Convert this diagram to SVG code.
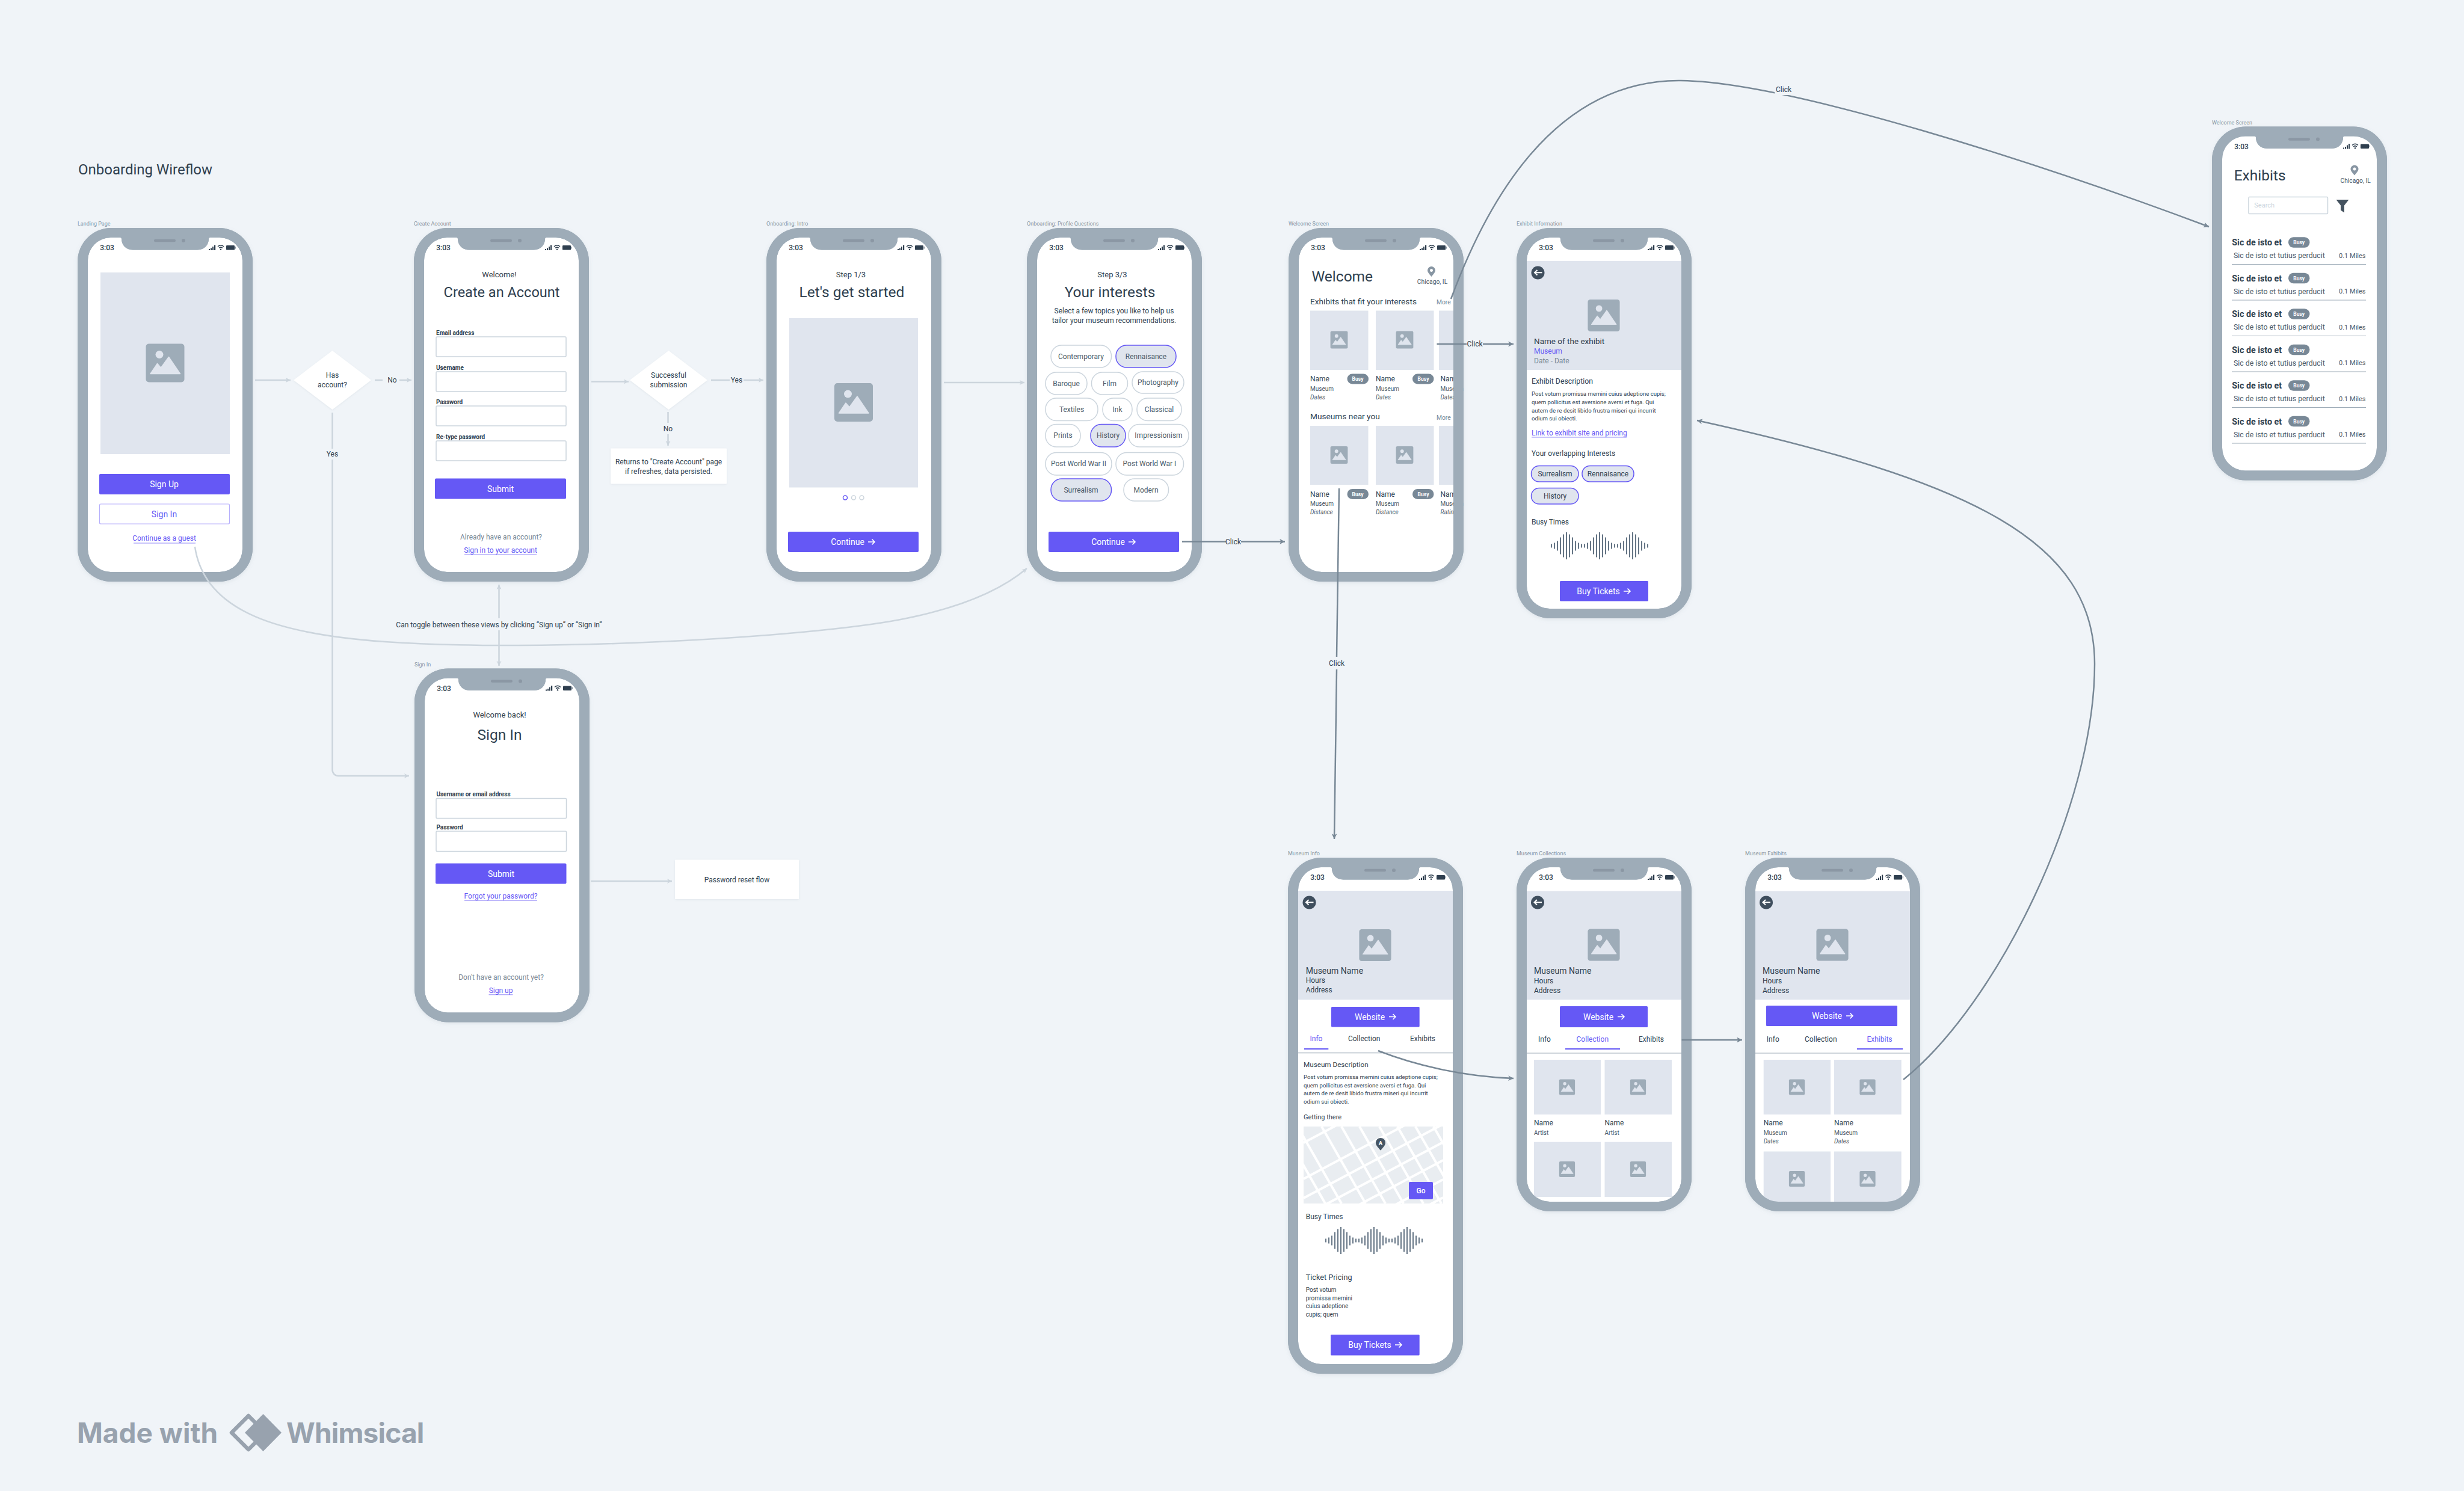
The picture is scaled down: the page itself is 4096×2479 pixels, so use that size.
<svg xmlns="http://www.w3.org/2000/svg" width="4096" height="2479" viewBox="0 0 4096 2479">
<style>
text{font-family:Roboto,"Liberation Sans",sans-serif;dominant-baseline:central;fill:#2f3f4f}
.c{text-anchor:middle}.e{text-anchor:end}.b{font-weight:700}.m{font-weight:500}.i{font-style:italic}
.g{fill:#788896}.p{fill:#6558f5}.w{fill:#fff}.l{fill:#ccd5dd}.n{fill:#4a5a68}
.s8{font-size:8.5px}.s9{font-size:9.5px}.sb{font-size:9.6px}.s10{font-size:10px}.sm{font-size:10.3px}.s11{font-size:11px}.s12{font-size:12px}.sr{font-size:12.3px}.s13{font-size:13px}.s14{font-size:14px}.sh{font-size:14.3px;font-weight:700}.s21{font-size:23.5px}.s24{font-size:24.5px}
.lbl{font-size:9px;fill:#8694a2}
.out{fill:#9eacb8;filter:url(#sh)}.scr{fill:#fff}.ring{fill:#9eacb8}
.ph{fill:#e0e5ee}.btn{fill:#6558f5}.inp{fill:#fff;stroke:#ccd5dd;stroke-width:1.5}
.chip{fill:#fff;stroke:#ccd5dd;stroke-width:1.5}.sel{fill:#e0e5ee;stroke:#6558f5;stroke-width:1.5}
.pill{fill:#788896}.ul{stroke:#6558f5;stroke-width:1;fill:none;opacity:.7}.ar{stroke:#fff;stroke-width:1.6;fill:none}
.dv{stroke:#9eacb8;stroke-width:1.2;fill:none}.tab{stroke:#6558f5;stroke-width:2.2;fill:none}
.box{fill:#fff;filter:url(#sh2)}
.cl{fill:none;stroke:#ccd5dd;stroke-width:2.5}.cd{fill:none;stroke:#788896;stroke-width:2.5}
.wave{fill:none;stroke:#667686;stroke-width:2}
.lg{fill:#98a2ae;font-family:Inter,"Liberation Sans",sans-serif;font-weight:700;font-size:46px}
</style>
<defs>
<filter id="sh" x="-10%" y="-10%" width="120%" height="120%"><feDropShadow dx="0" dy="2" stdDeviation="3" flood-color="#8694a2" flood-opacity=".18"/></filter>
<filter id="sh2" x="-10%" y="-10%" width="120%" height="120%"><feDropShadow dx="0" dy="1" stdDeviation="1.5" flood-color="#8694a2" flood-opacity=".15"/></filter>
<marker id="al" viewBox="0 0 10 10" refX="9" refY="5" markerWidth="10" markerHeight="10" markerUnits="userSpaceOnUse" orient="auto"><path d="M1 1L9 5L1 9L3 5Z" fill="#ccd5dd"/></marker>
<marker id="ad" viewBox="0 0 10 10" refX="9" refY="5" markerWidth="11" markerHeight="11" markerUnits="userSpaceOnUse" orient="auto"><path d="M1 1L9 5L1 9L3 5Z" fill="#788896"/></marker>
<g id="b588"><rect class="out" width="291" height="588" rx="56"/><path class="scr" d="M55 16H71a2 2 0 0 1 2 2C73 28 80 36.5 92 36.5H199C211 36.5 218 28 218 18a2 2 0 0 1 2-2H236a38 38 0 0 1 38 38V534a38 38 0 0 1-38 38H55a38 38 0 0 1-38-38V54a38 38 0 0 1 38-38Z"/></g>
<g id="b649"><rect class="out" width="291" height="649" rx="56"/><path class="scr" d="M55 16H71a2 2 0 0 1 2 2C73 28 80 36.5 92 36.5H199C211 36.5 218 28 218 18a2 2 0 0 1 2-2H236a38 38 0 0 1 38 38V595a38 38 0 0 1-38 38H55a38 38 0 0 1-38-38V54a38 38 0 0 1 38-38Z"/></g>
<g id="b858"><rect class="out" width="291" height="858" rx="56"/><path class="scr" d="M55 16H71a2 2 0 0 1 2 2C73 28 80 36.5 92 36.5H199C211 36.5 218 28 218 18a2 2 0 0 1 2-2H236a38 38 0 0 1 38 38V804a38 38 0 0 1-38 38H55a38 38 0 0 1-38-38V54a38 38 0 0 1 38-38Z"/></g>
<path id="r588" class="ring" fill-rule="evenodd" d="M56 0H235a56 56 0 0 1 56 56V532a56 56 0 0 1-56 56H56a56 56 0 0 1-56-56V56A56 56 0 0 1 56 0ZM55 16H71a2 2 0 0 1 2 2C73 28 80 36.5 92 36.5H199C211 36.5 218 28 218 18a2 2 0 0 1 2-2H236a38 38 0 0 1 38 38V534a38 38 0 0 1-38 38H55a38 38 0 0 1-38-38V54a38 38 0 0 1 38-38Z"/>
<path id="r649" class="ring" fill-rule="evenodd" d="M56 0H235a56 56 0 0 1 56 56V593a56 56 0 0 1-56 56H56a56 56 0 0 1-56-56V56A56 56 0 0 1 56 0ZM55 16H71a2 2 0 0 1 2 2C73 28 80 36.5 92 36.5H199C211 36.5 218 28 218 18a2 2 0 0 1 2-2H236a38 38 0 0 1 38 38V595a38 38 0 0 1-38 38H55a38 38 0 0 1-38-38V54a38 38 0 0 1 38-38Z"/>
<path id="r858" class="ring" fill-rule="evenodd" d="M56 0H235a56 56 0 0 1 56 56V802a56 56 0 0 1-56 56H56a56 56 0 0 1-56-56V56A56 56 0 0 1 56 0ZM55 16H71a2 2 0 0 1 2 2C73 28 80 36.5 92 36.5H199C211 36.5 218 28 218 18a2 2 0 0 1 2-2H236a38 38 0 0 1 38 38V804a38 38 0 0 1-38 38H55a38 38 0 0 1-38-38V54a38 38 0 0 1 38-38Z"/>
<g id="st"><rect x="127" y="18.8" width="36" height="4.5" rx="2.2" fill="#8b97a4"/><circle cx="176" cy="21" r="3" fill="#8b97a4"/>
<path fill="#2f3f4f" d="M218 35h2v2h-2zM221 33.500h2v3.500h-2zM224 31h2v6h-2zM227 28.500h2.200v8.500h-2.200z"/>
<path fill="none" stroke="#2f3f4f" stroke-width="1.500" d="M233 31Q238 26.500 243 31M235.200 33.300Q238 31 240.800 33.300"/><circle cx="238" cy="35.800" r="1.200" fill="#2f3f4f"/>
<rect x="247" y="29" width="14" height="7.500" rx="1.200" fill="#2f3f4f"/><rect x="261.500" y="31" width="1.500" height="3.500" fill="#8b97a4"/></g>
<g id="img"><rect x="-32" y="-32" width="64" height="64" rx="5" fill="#9eacb8"/><circle cx="-9.500" cy="-14" r="6.500" fill="#e0e5ee"/><path d="M-24.500 18L-13 1L-7 8L6-10L25 18Z" fill="#e0e5ee" stroke="#e0e5ee" stroke-width="1.500" stroke-linejoin="round"/></g>
<g id="back"><circle r="11" fill="#3f4e5d"/><path d="M7-.2H-5M-1-4.500L-5.500-.2L-1 4" fill="none" stroke="#fff" stroke-width="2"/></g>
<path id="arrow" class="ar" d="M0 0H11M6.500-4.500L11 0L6.500 4.500"/>
<path id="pin" fill="#8896a3" fill-rule="evenodd" d="M0 9C-4 4-6.500 1.500-6.500-1.500A6.500 6.500 0 0 1 6.500-1.500C6.500 1.500 4 4 0 9ZM0-4A2.500 2.500 0 1 0 .01-4Z"/>
<path id="wv" class="wave" d="M0-3v6M5-5v10M10-8v16M15-14v28M20-19v38M25-22.500v45M30-19v38M35-14v28M40-8v16M45-5v10M50-3v6M55-3v6M60-5v10M65-8v16M70-14v28M75-19v38M80-22.500v45M85-19v38M90-14v28M95-8v16M100-5v10M105-3v6M110-3v6M115-5v10M120-8v16M125-14v28M130-19v38M135-22.500v45M140-19v38M145-14v28M150-8v16M155-5v10M160-3v6"/>
<clipPath id="mc"><rect width="232" height="128"/></clipPath>
</defs>
<rect width="4096" height="2479" fill="#f0f4f8"/>
<text id="title" x="130" y="282" style="font-size:24px">Onboarding Wireflow</text>

<g id="landing" transform="translate(129,379)"><text class="lbl" y="-7">Landing Page</text><use href="#b588"/>
<rect class="ph" x="38" y="74" width="215" height="302"/><use href="#img" transform="translate(145.500,224.500)"/>
<rect class="btn" x="36" y="409" width="217" height="34" rx="2"/><text class="c w s14" x="144" y="426">Sign Up</text>
<rect x="36.500" y="459" width="216" height="33" rx="2" fill="#fff" stroke="#b5aefc" stroke-width="1.200"/><text class="c p s14" x="144" y="475.500">Sign In</text>
<text class="c p s12" x="144" y="516">Continue as a guest</text><path class="ul" d="M93 524H196"/>
<text class="c m s12" x="49" y="33">3:03</text><use href="#r588"/><use href="#st"/></g>

<g id="has-account"><path class="box" d="M552.500 583L617 632L552.500 681L488 632Z"/><text class="c s12" x="552.500" y="624">Has</text><text class="c s12" x="552.500" y="640">account?</text></g>

<g id="create" transform="translate(688,379)"><text class="lbl" y="-7">Create Account</text><use href="#b588"/>
<text class="c s13" x="142" y="77">Welcome!</text><text class="c s21" x="146" y="107">Create an Account</text>
<text class="b s10" x="37" y="174">Email address</text><rect class="inp" x="37" y="181" width="216" height="33" rx="1.500"/>
<text class="b s10" x="37" y="232">Username</text><rect class="inp" x="37" y="239" width="216" height="33" rx="1.500"/>
<text class="b s10" x="37" y="289">Password</text><rect class="inp" x="37" y="296" width="216" height="33" rx="1.500"/>
<text class="b s10" x="37" y="347">Re-type password</text><rect class="inp" x="37" y="354" width="216" height="33" rx="1.500"/>
<rect class="btn" x="35" y="416.500" width="218" height="34" rx="2"/><text class="c w s14" x="144" y="433.500">Submit</text>
<text class="c g s12" x="145" y="513.500">Already have an account?</text><text class="c p s12" x="144" y="536">Sign in to your account</text><path class="ul" d="M84 543H204"/>
<text class="c m s12" x="49" y="33">3:03</text><use href="#r588"/><use href="#st"/></g>

<g id="submission"><path class="box" d="M1111.500 583L1176 632L1111.500 681L1047 632Z"/><text class="c s12" x="1111.500" y="624">Successful</text><text class="c s12" x="1111.500" y="640">submission</text></g>
<g id="returns"><rect class="box" x="1015" y="745.500" width="193" height="59" rx="1"/><text class="c s12" x="1111.500" y="767.500">Returns to "Create Account" page</text><text class="c s12" x="1111.500" y="783.500">if refreshes, data persisted.</text></g>

<g id="intro" transform="translate(1274,379)"><text class="lbl" y="-7">Onboarding: Intro</text><use href="#b588"/>
<text class="c s13" x="140.500" y="77">Step 1/3</text><text class="c s24" x="142" y="106">Let's get started</text>
<rect class="ph" x="38" y="150" width="214" height="281.500"/><use href="#img" transform="translate(145,290)"/>
<circle cx="131" cy="448.500" r="3.500" fill="#fff" stroke="#6558f5" stroke-width="1.500"/><circle cx="145" cy="448.500" r="3.500" fill="#fff" stroke="#ccd5dd" stroke-width="1.500"/><circle cx="158.500" cy="448.500" r="3.500" fill="#fff" stroke="#ccd5dd" stroke-width="1.500"/>
<rect class="btn" x="36" y="505" width="217" height="34" rx="2"/><text class="c w s14" x="135" y="522">Continue</text><use href="#arrow" x="169" y="522"/>
<text class="c m s12" x="49" y="33">3:03</text><use href="#r588"/><use href="#st"/></g>

<g id="profile" transform="translate(1707,379)"><text class="lbl" y="-7">Onboarding: Profile Questions</text><use href="#b588"/>
<text class="c s13" x="142" y="77">Step 3/3</text><text class="c s24" x="138" y="106">Your interests</text>
<text class="c s12" x="145" y="137.500">Select a few topics you like to help us</text><text class="c s12" x="145" y="154">tailor your museum recommendations.</text>
<rect class="chip" x="40" y="195" width="100.500" height="37" rx="18"/><text class="c n s12" x="90" y="213.500">Contemporary</text>
<rect class="sel" x="148" y="195" width="100" height="37" rx="18"/><text class="c n s12" x="198" y="213.500">Rennaisance</text>
<rect class="chip" x="31" y="240" width="69" height="37" rx="18"/><text class="c n s12" x="65.500" y="258.500">Baroque</text>
<rect class="chip" x="107.500" y="240" width="60" height="37" rx="18"/><text class="c n s12" x="137.500" y="258.500">Film</text>
<rect class="chip" x="175" y="239" width="86" height="36" rx="18"/><text class="c n s12" x="218" y="256.500">Photography</text>
<rect class="chip" x="31" y="283" width="87" height="37.500" rx="18"/><text class="c n s12" x="74.500" y="301.500">Textiles</text>
<rect class="chip" x="126" y="283" width="49" height="37.500" rx="18"/><text class="c n s12" x="150.500" y="301.500">Ink</text>
<rect class="chip" x="183" y="283" width="74" height="37.500" rx="18"/><text class="c n s12" x="220" y="301.500">Classical</text>
<rect class="chip" x="31" y="326.500" width="58" height="37.500" rx="18"/><text class="c n s12" x="60" y="345">Prints</text>
<rect class="sel" x="106" y="326.500" width="58" height="37.500" rx="18"/><text class="c n s12" x="135" y="345">History</text>
<rect class="chip" x="169" y="326.500" width="100" height="37.500" rx="18"/><text class="c n s12" x="219" y="345">Impressionism</text>
<rect class="chip" x="31" y="373.500" width="110" height="37.500" rx="18"/><text class="c n s12" x="86" y="392">Post World War II</text>
<rect class="chip" x="148" y="373.500" width="112.500" height="37.500" rx="18"/><text class="c n s12" x="204" y="392">Post World War I</text>
<rect class="sel" x="40" y="417" width="100.500" height="37" rx="18"/><text class="c n s12" x="90" y="435.500">Surrealism</text>
<rect class="chip" x="161" y="417" width="74.500" height="37" rx="18"/><text class="c n s12" x="198" y="435.500">Modern</text>
<rect class="btn" x="36" y="505" width="217" height="34" rx="2"/><text class="c w s14" x="135" y="522">Continue</text><use href="#arrow" x="169" y="522"/>
<text class="c m s12" x="49" y="33">3:03</text><use href="#r588"/><use href="#st"/></g>

<g id="welcome" transform="translate(2142,379)"><text class="lbl" y="-7">Welcome Screen</text><use href="#b588"/>
<text class="s24" x="38.500" y="80">Welcome</text><use href="#pin" transform="translate(237.500,72)"/><text class="c n sm" x="239" y="89">Chicago, IL</text>
<text x="36" y="121.500" style="font-size:13.700px">Exhibits that fit your interests</text><text class="g sm" x="246" y="123">More</text>
<rect class="ph" x="36" y="137.500" width="96.500" height="98.500"/><rect class="ph" x="145" y="137.500" width="96.500" height="98.500"/><rect class="ph" x="250" y="137.500" width="30" height="98.500"/>
<use href="#img" transform="translate(84,186) scale(.45)"/><use href="#img" transform="translate(193,186) scale(.45)"/>
<text class="s12" x="36" y="251">Name</text><rect class="pill" x="97.500" y="242.500" width="35.500" height="17" rx="8.500"/><text class="c b w s8" x="115" y="251">Busy</text>
<text class="s12" x="145" y="251">Name</text><rect class="pill" x="206" y="242.500" width="35.500" height="17" rx="8.500"/><text class="c b w s8" x="224" y="251">Busy</text><text class="s12" x="252.500" y="251">Name</text>
<text class="n s10" x="36" y="267.500">Museum</text><text class="n s10" x="145" y="267.500">Museum</text><text class="n s10" x="252.500" y="267.500">Museum</text>
<text class="n i s10" x="36" y="281">Dates</text><text class="n i s10" x="145" y="281">Dates</text><text class="n i s10" x="252.500" y="281">Dates</text>
<text x="36" y="312.500" style="font-size:13.700px">Museums near you</text><text class="g sm" x="246" y="315">More</text>
<rect class="ph" x="36" y="329" width="96.500" height="98"/><rect class="ph" x="145" y="329" width="96.500" height="98"/><rect class="ph" x="250" y="329" width="30" height="98"/>
<use href="#img" transform="translate(84,377.500) scale(.45)"/><use href="#img" transform="translate(193,377.500) scale(.45)"/>
<text class="s12" x="36" y="442.500">Name</text><rect class="pill" x="97.500" y="434" width="35.500" height="17" rx="8.500"/><text class="c b w s8" x="115" y="442.500">Busy</text>
<text class="s12" x="145" y="442.500">Name</text><rect class="pill" x="206" y="434" width="35.500" height="17" rx="8.500"/><text class="c b w s8" x="224" y="442.500">Busy</text><text class="s12" x="252.500" y="442.500">Name</text>
<text class="n s10" x="36" y="458.500">Museum</text><text class="n s10" x="145" y="458.500">Museum</text><text class="n s10" x="252.500" y="458.500">Museum</text>
<text class="n i s10" x="36" y="472">Distance</text><text class="n i s10" x="145" y="472">Distance</text><text class="n i s10" x="252.500" y="472">Rating</text>
<text class="c m s12" x="49" y="33">3:03</text><use href="#r588"/><use href="#st"/></g>

<g id="exhibit-info" transform="translate(2521,379)"><text class="lbl" y="-7">Exhibit Information</text><use href="#b649"/>
<rect class="ph" x="17" y="55" width="257" height="181"/><use href="#back" x="35.500" y="74.500"/><use href="#img" transform="translate(145,145.500) scale(.83)"/>
<text x="29" y="188" style="font-size:13.500px">Name of the exhibit</text><text class="p s12" x="29" y="204.500">Museum</text><text class="g s12" x="29" y="221">Date - Date</text>
<text x="25" y="255" style="font-size:12.300px">Exhibit Description</text>
<text class="sb" x="25" y="275.500">Post votum promissa memini cuius adeptione cupis;</text><text class="sb" x="25" y="289">quem pollicitus est aversione aversi et fuga. Qui</text><text class="sb" x="25" y="303">autem de re desit libido frustra miseri qui incurrit</text><text class="sb" x="25" y="316.500">odium sui obiecti.</text>
<text class="p s12" x="25" y="341">Link to exhibit site and pricing</text><path class="ul" d="M25 348H183"/>
<text class="s12" x="25" y="375">Your overlapping Interests</text>
<rect class="sel" x="24.500" y="395.500" width="78.500" height="26.500" rx="13"/><text class="c s12" x="64" y="409">Surrealism</text>
<rect class="sel" x="109" y="395.500" width="86" height="26.500" rx="13"/><text class="c s12" x="152" y="409">Rennaisance</text>
<rect class="sel" x="24.500" y="432.500" width="78.500" height="26.500" rx="13"/><text class="c s12" x="64" y="446">History</text>
<text class="s12" x="25" y="489">Busy Times</text><use href="#wv" x="58" y="528.500"/>
<rect class="btn" x="72" y="587" width="147" height="33.500" rx="1.500"/><text class="c w s14" x="136" y="604">Buy Tickets</text><use href="#arrow" x="178" y="604"/>
<text class="c m s12" x="49" y="33">3:03</text><use href="#r649"/><use href="#st"/></g>

<g id="exhibits" transform="translate(3677,210.500)"><text class="lbl" y="-7">Welcome Screen</text><use href="#b588"/>
<text class="s24" x="36.700" y="80.500">Exhibits</text><use href="#pin" transform="translate(237,72)"/><text class="c n sm" x="238.700" y="89.500">Chicago, IL</text>
<rect class="inp" x="61" y="117" width="131.500" height="28" rx="1.500"/><text class="l s11" x="70.300" y="131">Search</text>
<path fill="#44525f" d="M206.500 121.600H227.500L220 131V143L214 139V131Z"/>
<g id="rows"><text class="sh" x="33.300" y="192.500">Sic de isto et</text><rect class="pill" x="127" y="183.800" width="35.500" height="17.400" rx="8.700"/><text class="c b w s8" x="144.700" y="192.500">Busy</text><text class="n sr" x="36" y="214.500">Sic de isto et tutius perducit</text><text class="e n s11" x="255.500" y="214.500">0.1 Miles</text><path class="dv" d="M33 229H256"/>
<text class="sh" x="33.300" y="252">Sic de isto et</text><rect class="pill" x="127" y="243.300" width="35.500" height="17.400" rx="8.700"/><text class="c b w s8" x="144.700" y="252">Busy</text><text class="n sr" x="36" y="274">Sic de isto et tutius perducit</text><text class="e n s11" x="255.500" y="274">0.1 Miles</text><path class="dv" d="M33 288.500H256"/>
<text class="sh" x="33.300" y="311.500">Sic de isto et</text><rect class="pill" x="127" y="302.800" width="35.500" height="17.400" rx="8.700"/><text class="c b w s8" x="144.700" y="311.500">Busy</text><text class="n sr" x="36" y="333.500">Sic de isto et tutius perducit</text><text class="e n s11" x="255.500" y="333.500">0.1 Miles</text><path class="dv" d="M33 348H256"/>
<text class="sh" x="33.300" y="371">Sic de isto et</text><rect class="pill" x="127" y="362.300" width="35.500" height="17.400" rx="8.700"/><text class="c b w s8" x="144.700" y="371">Busy</text><text class="n sr" x="36" y="393">Sic de isto et tutius perducit</text><text class="e n s11" x="255.500" y="393">0.1 Miles</text><path class="dv" d="M33 407.500H256"/>
<text class="sh" x="33.300" y="430.500">Sic de isto et</text><rect class="pill" x="127" y="421.800" width="35.500" height="17.400" rx="8.700"/><text class="c b w s8" x="144.700" y="430.500">Busy</text><text class="n sr" x="36" y="452.500">Sic de isto et tutius perducit</text><text class="e n s11" x="255.500" y="452.500">0.1 Miles</text><path class="dv" d="M33 467H256"/>
<text class="sh" x="33.300" y="490">Sic de isto et</text><rect class="pill" x="127" y="481.300" width="35.500" height="17.400" rx="8.700"/><text class="c b w s8" x="144.700" y="490">Busy</text><text class="n sr" x="36" y="512">Sic de isto et tutius perducit</text><text class="e n s11" x="255.500" y="512">0.1 Miles</text><path class="dv" d="M33 526.500H256"/></g>
<text class="c m s12" x="49" y="33">3:03</text><use href="#r588"/><use href="#st"/></g>

<g id="sign-in" transform="translate(689,1111.500)"><text class="lbl" y="-7">Sign In</text><use href="#b588"/>
<text class="c s13" x="141.500" y="77">Welcome back!</text><text class="c s24" x="141.500" y="110">Sign In</text>
<text class="b s10" x="36.400" y="209">Username or email address</text><rect class="inp" x="36" y="216" width="216.500" height="33" rx="1.500"/>
<text class="b s10" x="36.400" y="263.500">Password</text><rect class="inp" x="36" y="270.500" width="216.500" height="33.500" rx="1.500"/>
<rect class="btn" x="35" y="324" width="217.500" height="34" rx="2"/><text class="c w s14" x="144" y="341">Submit</text>
<text class="c p s12" x="143.500" y="378">Forgot your password?</text><path class="ul" d="M83 385.700H204"/>
<text class="c g s12" x="144" y="513.500">Don't have an account yet?</text><text class="c p s12" x="143.500" y="535.500">Sign up</text><path class="ul" d="M123.500 542.300H163.500"/>
<text class="c m s12" x="49" y="33">3:03</text><use href="#r588"/><use href="#st"/></g>

<g id="password-reset"><rect class="box" x="1122" y="1429.500" width="206" height="65.500" rx="1"/><text class="c s12" x="1225" y="1462.500">Password reset flow</text></g>

<g id="museum-info" transform="translate(2141,1426)"><text class="lbl" y="-7">Museum Info</text><use href="#b858"/>
<rect class="ph" x="17" y="55" width="257" height="181"/><use href="#back" x="35.500" y="74.500"/><use href="#img" transform="translate(145,145.500) scale(.83)"/>
<text class="s14" x="29.700" y="188">Museum Name</text><text class="s12" x="29.700" y="204">Hours</text><text class="s12" x="29.700" y="220">Address</text>
<rect class="btn" x="72" y="248" width="146.700" height="33.500" rx="1.500"/><text class="c w s14" x="136" y="264.500">Website</text><use href="#arrow" x="168" y="264.500"/>
<text class="c p s12" x="47" y="301">Info</text><text class="c s12" x="126.700" y="301">Collection</text><text class="c s12" x="224" y="301">Exhibits</text><path class="tab" d="M27 318H67.300"/><path class="dv" d="M17 324.600H274"/>
<text x="26" y="343.700" style="font-size:11.700px">Museum Description</text>
<text class="sb" x="26" y="364">Post votum promissa memini cuius adeptione cupis;</text><text class="sb" x="26" y="378">quem pollicitus est aversione aversi et fuga. Qui</text><text class="sb" x="26" y="391.500">autem de re desit libido frustra miseri qui incurrit</text><text class="sb" x="26" y="405">odium sui obiecti.</text>
<text x="26" y="431" style="font-size:11px">Getting there</text>
<g transform="translate(26,447)" clip-path="url(#mc)"><rect width="232" height="128" fill="#e9edf1"/><path fill="none" stroke="#fff" stroke-width="4" d="M0 27L232-96M0 87L232-36M0 119L232-4M0 149L232 26M0 179L232 56M0 211L232 88M0 241L232 118M-37 0L36 128M-10 0L63 128M30 0L103 128M63 0L136 128M93 0L166 128M126 0L199 128M156 0L229 128M186 0L259 128M216 0L289 128"/></g>
<path fill="#465665" d="M154 486.700C149 481 146 478 146 474a8 8 0 0 1 16 0C162 478 159 481 154 486.700Z"/><text class="c b w s9" x="154" y="474">A</text>
<rect class="btn" x="201" y="539" width="40" height="29" rx="2"/><text class="c m w s12" x="221" y="553.500">Go</text>
<text class="s12" x="29.700" y="597">Busy Times</text><use href="#wv" x="63" y="636.500"/>
<text class="s12" x="29.700" y="697" style="font-size:12.700px">Ticket Pricing</text>
<text class="s10" x="29.700" y="718">Post votum</text><text class="s10" x="29.700" y="732">promissa memini</text><text class="s10" x="29.700" y="745.500">cuius adeptione</text><text class="s10" x="29.700" y="759.500">cupis; quem</text>
<rect class="btn" x="71" y="793" width="147.700" height="34.500" rx="1.500"/><text class="c w s14" x="136" y="810">Buy Tickets</text><use href="#arrow" x="178" y="810"/>
<text class="c m s12" x="49" y="33">3:03</text><use href="#r858"/><use href="#st"/></g>

<g id="museum-collections" transform="translate(2521,1426)"><text class="lbl" y="-7">Museum Collections</text><use href="#b588"/>
<rect class="ph" x="17" y="55.500" width="257" height="180.500"/><use href="#back" x="35" y="74.500"/><use href="#img" transform="translate(145,145) scale(.83)"/>
<text class="s14" x="29" y="188">Museum Name</text><text class="s12" x="29" y="204.500">Hours</text><text class="s12" x="29" y="221">Address</text>
<rect class="btn" x="72" y="247" width="146" height="35" rx="1.500"/><text class="c w s14" x="136" y="264.500">Website</text><use href="#arrow" x="168" y="264.500"/>
<text class="c s12" x="46.500" y="301.500">Info</text><text class="c p s12" x="126.300" y="301.500">Collection</text><text class="c s12" x="224" y="301.500">Exhibits</text><path class="tab" d="M81 318H172"/><path class="dv" d="M17 325H274"/>
<rect class="ph" x="29" y="336" width="111" height="91"/><rect class="ph" x="146.500" y="336" width="111.500" height="91"/><use href="#img" transform="translate(84,381.500) scale(.41)"/><use href="#img" transform="translate(202,381.500) scale(.41)"/>
<text class="s12" x="29" y="441">Name</text><text class="s12" x="146.500" y="441">Name</text><text class="n s10" x="29" y="457.300">Artist</text><text class="n s10" x="146.500" y="457.300">Artist</text>
<rect class="ph" x="29" y="472.700" width="111" height="91.300"/><rect class="ph" x="146.500" y="472.700" width="111.500" height="91.300"/><use href="#img" transform="translate(84,518) scale(.41)"/><use href="#img" transform="translate(202,518) scale(.41)"/>
<text class="c m s12" x="49" y="33">3:03</text><use href="#r588"/><use href="#st"/></g>

<g id="museum-exhibits" transform="translate(2901,1426)"><text class="lbl" y="-7">Museum Exhibits</text><use href="#b588"/>
<rect class="ph" x="17" y="55.500" width="257" height="180.500"/><use href="#back" x="35" y="74.500"/><use href="#img" transform="translate(145,145) scale(.83)"/>
<text class="s14" x="29" y="188">Museum Name</text><text class="s12" x="29" y="204.500">Hours</text><text class="s12" x="29" y="221">Address</text>
<rect class="btn" x="35" y="246" width="218" height="34" rx="1.500"/><text class="c w s14" x="136" y="263">Website</text><use href="#arrow" x="168" y="263"/>
<text class="c s12" x="46.300" y="301.500">Info</text><text class="c s12" x="125.800" y="301.500">Collection</text><text class="c p s12" x="223.500" y="301.500">Exhibits</text><path class="tab" d="M186 318H262"/><path class="dv" d="M17 325H274"/>
<rect class="ph" x="30.700" y="336" width="111.300" height="91"/><rect class="ph" x="148" y="336" width="111.700" height="91"/><use href="#img" transform="translate(86,381.500) scale(.41)"/><use href="#img" transform="translate(203.500,381.500) scale(.41)"/>
<text class="s12" x="30.700" y="441">Name</text><text class="s12" x="148" y="441">Name</text><text class="n s10" x="30.700" y="457.300">Museum</text><text class="n s10" x="148" y="457.300">Museum</text><text class="n i s10" x="30.700" y="471">Dates</text><text class="n i s10" x="148" y="471">Dates</text>
<rect class="ph" x="30.700" y="488.500" width="111.300" height="90"/><rect class="ph" x="148" y="488.500" width="111.700" height="90"/><use href="#img" transform="translate(86,534) scale(.41)"/><use href="#img" transform="translate(203.500,534) scale(.41)"/>
<text class="c m s12" x="49" y="33">3:03</text><use href="#r588"/><use href="#st"/></g>

<g id="connectors">
<path class="cl" marker-end="url(#al)" d="M424 632H483"/>
<path class="cl" d="M623 632H636"/><text class="c s12" x="652" y="632">No</text><path class="cl" marker-end="url(#al)" d="M664 632H684"/>
<path class="cl" d="M552.500 686V746"/><text class="c s12" x="552.500" y="755">Yes</text><path class="cl" marker-end="url(#al)" d="M552.500 764V1280a10 10 0 0 0 10 10H680"/>
<path class="cl" marker-end="url(#al)" d="M983 634.500H1045"/>
<path class="cl" d="M1182 632H1213"/><text class="c s12" x="1224.500" y="632">Yes</text><path class="cl" marker-end="url(#al)" d="M1236 632H1269"/>
<path class="cl" d="M1110.500 685V703"/><text class="c s12" x="1110.500" y="712.500">No</text><path class="cl" marker-end="url(#al)" d="M1110.500 722V741"/>
<path class="cl" marker-end="url(#al)" d="M1569 636H1703"/>
<path class="cl" marker-end="url(#al)" d="M324 909C340 1020 470 1055 640 1067C900 1085 1340 1060 1497 1030C1590 1012 1660 985 1707 945"/>
<path class="cl" marker-end="url(#al)" d="M829.500 1028V972"/><text class="c s12" x="829.500" y="1039">Can toggle between these views by clicking “Sign up” or “Sign in”</text><path class="cl" marker-end="url(#al)" d="M829.500 1048V1107"/>
<path class="cl" marker-end="url(#al)" d="M982 1465H1117"/>
<path class="cd" d="M1965 900.500H2038"/><text class="c s12" x="2050" y="900.500">Click</text><path class="cd" marker-end="url(#ad)" d="M2063 900.500H2136"/>
<path class="cd" d="M2388.500 572H2438"/><text class="c s12" x="2451.500" y="572">Click</text><path class="cd" marker-end="url(#ad)" d="M2465 572H2516"/>
<path class="cd" marker-end="url(#ad)" d="M2412 497C2470 340 2580 135 2790 134C2970 134 3400 275 3672 377"/><rect x="2950" y="140" width="30" height="18" fill="#f0f4f8"/><text class="c s12" x="2965" y="149">Click</text>
<path class="cd" d="M2226 812L2222 1092"/><text class="c s12" x="2222" y="1103">Click</text><path class="cd" marker-end="url(#ad)" d="M2222 1113L2218 1395"/>
<path class="cd" marker-end="url(#ad)" d="M2291 1747C2350 1770 2430 1790 2516 1793"/>
<path class="cd" marker-end="url(#ad)" d="M2795.500 1729H2896"/>
<path class="cd" marker-end="url(#ad)" d="M3164 1795C3320 1670 3482 1340 3482 1104C3482 900 3280 800 2821 699"/>
</g>

<g id="watermark"><text class="lg" x="128" y="2382">Made with</text>
<path d="M413 2354L385 2382L413 2410L441 2382Z" fill="none" stroke="#98a2ae" stroke-width="6.500" stroke-linejoin="round"/>
<path d="M437.500 2351L468 2382L437.500 2413L407 2382Z" fill="#98a2ae"/>
<text class="lg" x="476" y="2382" style="letter-spacing:-.8px">Whimsical</text></g>
</svg>
